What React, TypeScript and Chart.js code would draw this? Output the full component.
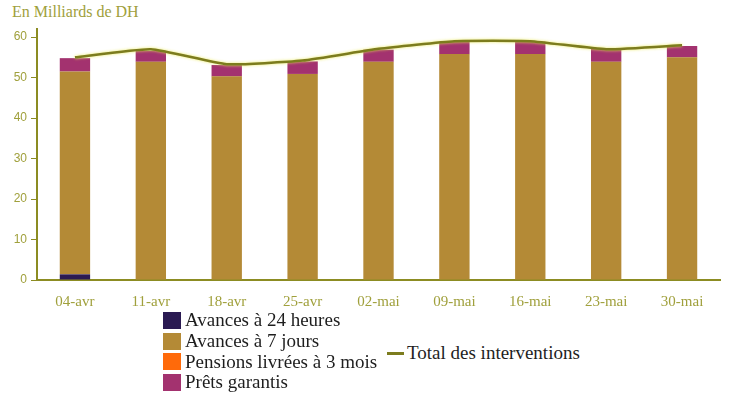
import React, { useEffect, useRef } from "react";
import { Chart, registerables } from "chart.js";

Chart.register(...registerables);

const categories = ["04-avr", "11-avr", "18-avr", "25-avr", "02-mai", "09-mai", "16-mai", "23-mai", "30-mai"];
const avances24h = [1.4, 0, 0, 0, 0, 0, 0, 0, 0];
const avances7j = [50.1, 53.9, 50.3, 50.9, 53.9, 55.8, 55.8, 53.9, 55.0];
const pensions3m = [0, 0, 0, 0, 0, 0, 0, 0, 0];
const pretsGarantis = [3.3, 2.7, 2.8, 3.1, 3.0, 3.1, 3.1, 3.2, 2.8];
const totalInterventions = [55.0, 57.0, 53.3, 54.2, 57.1, 59.0, 59.0, 57.0, 58.0];
const yTicks = [0, 10, 20, 30, 40, 50, 60];

const barNames = ["Avances à 24 heures", "Avances à 7 jours", "Pensions livrées à 3 mois", "Prêts garantis"];
const barColors = ["#2a1a52", "#b48a36", "#ff6a0a", "#a3326f"];
const lineName = "Total des interventions";
const lineColor = "#7c7c1e";
const axisColor = "#8c8c22";
const tickColor = "#a0a03c";
const FONT = '"Liberation Serif", serif';
const SANS = '"Liberation Sans", sans-serif';

Chart.defaults.font.family = FONT;

const glowPlugin = {
  id: "glow",
  beforeDatasetDraw(chart: any, args: any) {
    if (chart.data.datasets[args.index].type === "line") {
      chart.ctx.save();
      chart.ctx.shadowColor = "rgba(235,235,90,0.95)";
      chart.ctx.shadowBlur = 3;
    }
  },
  afterDatasetDraw(chart: any, args: any) {
    if (chart.data.datasets[args.index].type === "line") {
      chart.ctx.restore();
    }
  },
};

export default function App() {
  const ref = useRef<HTMLCanvasElement | null>(null);

  useEffect(() => {
    if (!ref.current) return;
    const barSeries = [avances24h, avances7j, pensions3m, pretsGarantis];
    const chart = new Chart(ref.current, {
      type: "bar",
      data: {
        labels: categories,
        datasets: [
          {
            type: "line",
            label: lineName,
            data: totalInterventions,
            borderColor: lineColor,
            backgroundColor: lineColor,
            borderWidth: 2.5,
            pointRadius: 0,
            tension: 0.15,
            stack: "total",
            order: 0,
          } as any,
          ...barSeries.map((d, i) => ({
            type: "bar",
            label: barNames[i],
            data: d,
            backgroundColor: barColors[i],
            borderWidth: 0,
            stack: "bars",
            order: 1,
            categoryPercentage: 0.4,
            barPercentage: 1,
          })),
        ],
      },
      options: {
        animation: false,
        responsive: false,
        maintainAspectRatio: false,
        layout: { padding: { top: 29, right: 17, left: 0, bottom: 0 } },
        plugins: { legend: { display: false }, tooltip: { enabled: false } },
        scales: {
          x: {
            stacked: true,
            grid: { display: false },
            border: { display: true, color: axisColor, width: 2 },
            ticks: { color: tickColor, font: { family: FONT, size: 15 }, padding: 5, maxRotation: 0 },
            afterFit(scale: any) {
              scale.height = 30;
            },
          },
          y: {
            stacked: true,
            min: 0,
            max: 62,
            grid: { drawOnChartArea: false, drawTicks: true, tickLength: 6, color: axisColor, lineWidth: 1 },
            border: { display: true, color: axisColor, width: 2 },
            ticks: { color: tickColor, font: { family: SANS, size: 12 }, padding: 4, stepSize: 10 },
            afterBuildTicks(scale: any) {
              scale.ticks = yTicks.map((v) => ({ value: v }));
            },
            afterFit(scale: any) {
              scale.width = 37;
            },
          },
        },
      } as any,
      plugins: [glowPlugin],
    });
    return () => chart.destroy();
  }, []);

  return (
    <div style={{ position: "absolute", left: 0, top: 0, width: 737, height: 401, background: "#fff", fontFamily: FONT }}>
      <div style={{ position: "absolute", left: 12, top: 3, fontSize: 16, color: tickColor, fontFamily: FONT }}>En Milliards de DH</div>
      <canvas ref={ref} width={737} height={310} style={{ position: "absolute", left: 0, top: 0, width: 737, height: 310 }} />
      <div style={{ position: "absolute", left: 163, top: 310, fontFamily: FONT }}>
        {barNames.map((n, i) => (
          <div key={n} style={{ display: "flex", alignItems: "center", height: 20.7 }}>
            <span style={{ display: "inline-block", width: 18, height: 17, background: barColors[i], marginRight: 4, flexShrink: 0 }} />
            <span style={{ fontSize: 19, lineHeight: "20px", color: "#1e1e1e", whiteSpace: "nowrap", fontFamily: FONT }}>{n}</span>
          </div>
        ))}
      </div>
      <div style={{ position: "absolute", left: 387, top: 342, height: 22, display: "flex", alignItems: "center", fontFamily: FONT }}>
        <span style={{ display: "inline-block", width: 17, height: 3, background: lineColor, marginRight: 3 }} />
        <span style={{ fontSize: 19, lineHeight: "20px", color: "#1e1e1e", whiteSpace: "nowrap", fontFamily: FONT }}>{lineName}</span>
      </div>
    </div>
  );
}
